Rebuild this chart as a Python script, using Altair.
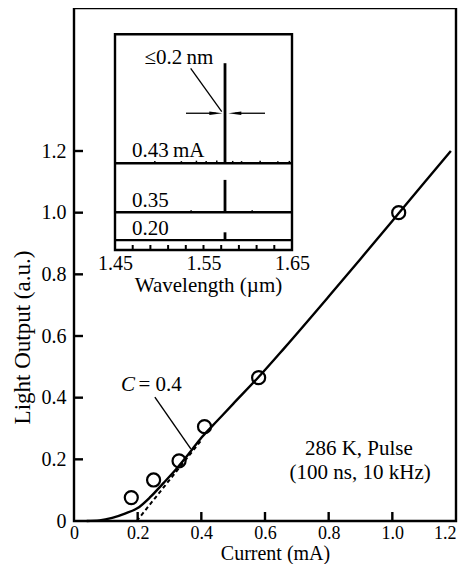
import altair as alt
import pandas as pd

FONT = "Liberation Serif"

# ---------------- main panel data ----------------
pt_current = [0.18, 0.25, 0.33, 0.41, 0.58, 1.02]
pt_light = [0.076, 0.133, 0.195, 0.306, 0.465, 1.0]

fit_current = [0.04, 0.08, 0.12, 0.16, 0.20, 0.24, 0.28, 0.32, 0.36, 0.40,
               0.45, 0.50, 0.58, 0.66, 0.80, 0.90, 1.02, 1.10, 1.184]
fit_light = [0.0, 0.002, 0.010, 0.024, 0.042, 0.078, 0.122, 0.167, 0.217, 0.270,
             0.325, 0.380, 0.467, 0.560, 0.728, 0.850, 0.998, 1.097, 1.200]

thr_current = [0.197, 0.40]
thr_light = [0.0, 0.262]

lead_current = [0.254, 0.367]
lead_light = [0.402, 0.234]

x_tick_values = [0.0, 0.2, 0.4, 0.6, 0.8, 1.0, 1.2]
y_tick_values = [0.0, 0.2, 0.4, 0.6, 0.8, 1.0, 1.2]
x_inner_ticks = [0.2, 0.4, 0.6, 0.8, 1.0]
y_inner_ticks = [0.2, 0.4, 0.6, 0.8, 1.0, 1.2]

note_text = ["286 K, Pulse", "(100 ns, 10 kHz)"]
note_x = [0.895, 0.899]
note_y = [0.214, 0.136]

c_sym_x = [0.148]
c_rest_x = [0.2026]
c_y = [0.4217]

# ---------------- inset data ----------------
inset_ticks = [1.47, 1.49, 1.51, 1.53, 1.55, 1.57, 1.59, 1.61, 1.63]
trace_labels = ["0.43\u2009mA", "0.35", "0.20"]
trace_base = [40.2, 17.5, 4.6]
trace_peak = [86.6, 32.5, 8.2]
peak_wl = [1.5743, 1.5743, 1.5743]
label_wl = [1.4692, 1.4692, 1.4692]
label_u = [43.1, 19.9, 7.0]

noise_wl = [1.495, 1.525, 1.542, 1.553, 1.565, 1.583, 1.593, 1.614, 1.634, 1.647, 1.536, 1.605]
noise_base = [40.2, 40.2, 40.2, 40.2, 40.2, 40.2, 40.2, 40.2, 40.2, 40.2, 17.5, 17.5]
noise_top = [41.3, 41.2, 41.4, 41.3, 41.5, 41.3, 41.2, 41.4, 41.2, 41.3, 18.4, 18.4]

width_text = ["\u22640.2\u2009nm"]
width_text_wl = [1.5223]
width_text_u = [86.2]
width_lead_wl = [1.5355, 1.5706]
width_lead_u = [84.2, 64.1]
arrow_u = 63.4
shaft_start = [1.5302, 1.6195]
shaft_end = [1.5640, 1.5856]
head_left_wl = [1.5639]
head_right_wl = [1.5854]

# ---------------- scales / axes ----------------
mx_scale = alt.Scale(domain=[0, 1.2], nice=False, zero=False)
my_scale = alt.Scale(domain=[0, 1.6638], nice=False, zero=False)

mx_axis = alt.Axis(values=x_tick_values, labelExpr="datum.value == 0 ? '0' : format(datum.value, '.1f')",
                   ticks=False, domain=False, grid=False, labelFlush=False,
                   labelAlign=alt.condition("datum.value >= 1.19", alt.value("right"), alt.value("center")),
                   labelFont=FONT, labelFontSize=18, labelColor="black", labelPadding=3,
                   title="Current (mA)", titleFont=FONT, titleFontSize=20, titleFontWeight="normal",
                   titleColor="black", titleX=201, titleY=38, titleBaseline="alphabetic")
my_axis = alt.Axis(values=y_tick_values, labelExpr="datum.value == 0 ? '0' : format(datum.value, '.1f')",
                   ticks=False, domain=False, grid=False, labelFlush=False,
                   labelFont=FONT, labelFontSize=20, labelColor="black", labelPadding=8,
                   labelBaseline="middle",
                   title="Light Output (a.u.)", titleFont=FONT, titleFontSize=23, titleFontWeight="normal",
                   titleColor="black", titleX=-45, titleY=329, titleAngle=-90, titleBaseline="alphabetic",
                   titleAlign="center")

ix_scale = alt.Scale(domain=[1.45, 1.65], range=[41, 218], nice=False, zero=False)
iy_scale = alt.Scale(domain=[0, 100], range=[242, 26.3], nice=False, zero=False)
ix_axis = alt.Axis(orient="bottom", offset=-271, values=[1.45, 1.55, 1.65], format=".2f",
                   ticks=False, domain=False, grid=False, labelFlush=False,
                   labelFont=FONT, labelFontSize=20, labelColor="black", labelPadding=3,
                   title="Wavelength (\u00b5m)", titleFont=FONT, titleFontSize=21, titleFontWeight="normal",
                   titleColor="black", titleX=134, titleY=41, titleBaseline="alphabetic")


def MX(f="x"):
    return alt.X(f"{f}:Q", scale=mx_scale, axis=mx_axis)


def MY(f="y"):
    return alt.Y(f"{f}:Q", scale=my_scale, axis=my_axis)


def IX(f="w"):
    return alt.X(f"{f}:Q", scale=ix_scale, axis=ix_axis)


def IY(f="u"):
    return alt.Y(f"{f}:Q", scale=iy_scale, axis=None)


# ---------------- main layers ----------------
fit_df = pd.DataFrame({"x": fit_current, "y": fit_light})
thr_df = pd.DataFrame({"x": thr_current, "y": thr_light})
pts_df = pd.DataFrame({"x": pt_current, "y": pt_light})
lead_df = pd.DataFrame({"x": [lead_current[0]], "y": [lead_light[0]],
                        "x2": [lead_current[1]], "y2": [lead_light[1]]})
xt_df = pd.DataFrame({"x": x_inner_ticks, "y": [0.0] * len(x_inner_ticks)})
yt_df = pd.DataFrame({"x": [0.0] * len(y_inner_ticks), "y": y_inner_ticks})
note_df = pd.DataFrame({"x": note_x, "y": note_y, "t": note_text})
csym_df = pd.DataFrame({"x": c_sym_x, "y": c_y, "t": ["C"]})
crest_df = pd.DataFrame({"x": c_rest_x, "y": c_y, "t": ["= 0.4"]})

fit = alt.Chart(fit_df).mark_line(color="black", strokeWidth=2.4, interpolate="monotone").encode(x=MX(), y=MY())
thr = alt.Chart(thr_df).mark_line(color="black", strokeWidth=2, strokeDash=[4, 3]).encode(x=MX(), y=MY())
pts = alt.Chart(pts_df).mark_point(shape="circle", size=170, color="black", strokeWidth=2.2,
                                   opacity=1, filled=False).encode(x=MX(), y=MY())
lead = alt.Chart(lead_df).mark_rule(color="black", strokeWidth=1.4).encode(
    x=MX(), y=MY(), x2=alt.X2("x2:Q"), y2=alt.Y2("y2:Q"))
xt = alt.Chart(xt_df).mark_tick(orient="vertical", size=9, thickness=2.4, yOffset=-4.5,
                                color="black", opacity=1).encode(x=MX(), y=MY())
yt = alt.Chart(yt_df).mark_tick(orient="horizontal", size=9, thickness=2.4, xOffset=4.5,
                                color="black", opacity=1).encode(x=MX(), y=MY())
note = alt.Chart(note_df).mark_text(font=FONT, fontSize=21, align="center", baseline="alphabetic",
                                    color="black").encode(x=MX(), y=MY(), text="t:N")
csym = alt.Chart(csym_df).mark_text(font=FONT, fontSize=21, fontStyle="italic", align="left",
                                    baseline="alphabetic", color="black").encode(x=MX(), y=MY(), text="t:N")
crest = alt.Chart(crest_df).mark_text(font=FONT, fontSize=21, align="left",
                                      baseline="alphabetic", color="black").encode(x=MX(), y=MY(), text="t:N")

main = alt.layer(fit, thr, pts, lead, xt, yt, note, csym, crest)

# ---------------- inset layers ----------------
frame_df = pd.DataFrame({"w": [1.45], "w2": [1.65], "u": [0.0], "u2": [100.0]})
base_df = pd.DataFrame({"w": [1.45] * 3, "w2": [1.65] * 3, "u": trace_base})
peak_df = pd.DataFrame({"w": peak_wl, "u": trace_base, "u2": trace_peak})
noise_df = pd.DataFrame({"w": noise_wl, "u": noise_base, "u2": noise_top})
itick_df = pd.DataFrame({"w": inset_ticks, "u": [0.0] * len(inset_ticks)})
ilab_df = pd.DataFrame({"w": label_wl, "u": label_u, "t": trace_labels})
wtxt_df = pd.DataFrame({"w": width_text_wl, "u": width_text_u, "t": width_text})
wlead_df = pd.DataFrame({"w": [width_lead_wl[0]], "u": [width_lead_u[0]],
                         "w2": [width_lead_wl[1]], "u2": [width_lead_u[1]]})
shaft_df = pd.DataFrame({"w": shaft_start, "w2": shaft_end, "u": [arrow_u, arrow_u]})
hl_df = pd.DataFrame({"w": head_left_wl, "u": [arrow_u]})
hr_df = pd.DataFrame({"w": head_right_wl, "u": [arrow_u]})

frame = alt.Chart(frame_df).mark_rect(fill="white", stroke="black", strokeWidth=2.4).encode(
    x=IX(), x2=alt.X2("w2:Q"), y=IY(), y2=alt.Y2("u2:Q"))
bases = alt.Chart(base_df).mark_rule(color="black", strokeWidth=2.4).encode(
    x=IX(), x2=alt.X2("w2:Q"), y=IY())
peaks = alt.Chart(peak_df).mark_rule(color="black", strokeWidth=2.8).encode(
    x=IX(), y=IY(), y2=alt.Y2("u2:Q"))
noise = alt.Chart(noise_df).mark_rule(color="black", strokeWidth=1.5).encode(
    x=IX(), y=IY(), y2=alt.Y2("u2:Q"))
iticks = alt.Chart(itick_df).mark_tick(orient="vertical", size=5, thickness=2, yOffset=-2.5,
                                       color="black", opacity=1).encode(x=IX(), y=IY())
ilab = alt.Chart(ilab_df).mark_text(font=FONT, fontSize=21, align="left", baseline="alphabetic",
                                    color="black").encode(x=IX(), y=IY(), text="t:N")
wtxt = alt.Chart(wtxt_df).mark_text(font=FONT, fontSize=21, align="center", baseline="alphabetic",
                                    color="black").encode(x=IX(), y=IY(), text="t:N")
wlead = alt.Chart(wlead_df).mark_rule(color="black", strokeWidth=1.3).encode(
    x=IX(), y=IY(), x2=alt.X2("w2:Q"), y2=alt.Y2("u2:Q"))
shafts = alt.Chart(shaft_df).mark_rule(color="black", strokeWidth=1.3).encode(
    x=IX(), x2=alt.X2("w2:Q"), y=IY())
head_l = alt.Chart(hl_df).mark_point(shape="M-1,-0.28L1,0L-1,0.28Z", size=169, filled=True,
                                     color="black", opacity=1, strokeWidth=0).encode(x=IX(), y=IY())
head_r = alt.Chart(hr_df).mark_point(shape="M1,-0.28L-1,0L1,0.28Z", size=169, filled=True,
                                     color="black", opacity=1, strokeWidth=0).encode(x=IX(), y=IY())

inset = alt.layer(frame, bases, peaks, noise, iticks, ilab, wtxt, wlead, shafts, head_l, head_r)

chart = alt.layer(main, inset).resolve_scale(x="independent", y="independent").properties(
    width=382, height=513,
    padding={"left": 66, "top": 0, "right": 2, "bottom": 43},
    autosize=alt.AutoSizeParams(type="none"),
    background="white",
).configure(font=FONT).configure_view(stroke="black", strokeWidth=2.4)

chart.save("out.html", embed_options={"renderer": "svg", "actions": False})
